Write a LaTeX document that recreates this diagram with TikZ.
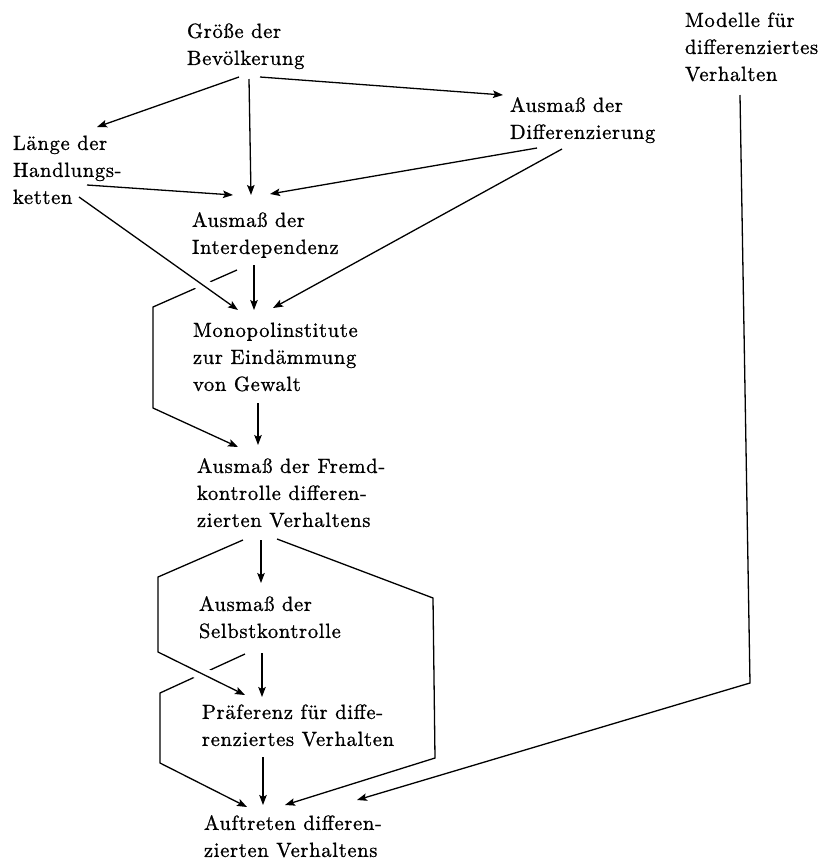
\documentclass[tikz,border=0pt]{standalone}
\usepackage{fontspec}
\setmainfont{lmroman10-regular.otf}[LetterSpace=3.5,FakeBold=1.0]
\usetikzlibrary{arrows.meta}
\begin{document}
\begin{tikzpicture}[x=1pt,y=-1pt,
  lbl/.style={anchor=north west,inner sep=0pt,outer sep=0pt,align=left,font=\fontsize{20.5}{27}\selectfont},
  conn/.style={line width=1.3pt,-{Stealth[length=10pt,width=7.5pt,inset=2pt]},line join=miter},
  over/.style={preaction={draw=white,line width=14pt,-}}]
\useasboundingbox[fill=white] (0,0) rectangle (823,863);
% nodes
\node[lbl] (grosse) at (187,19) {\strut Größe der\\Bevölkerung};
\node[lbl] (laenge) at (13,131) {\strut Länge der\\Handlungs-\\ketten};
\node[lbl] (diff) at (510,93) {\strut Ausmaß der\\Differenzierung};
\node[lbl] (modelle) at (685,8) {\strut Modelle für\\differenziertes\\Verhalten};
\node[lbl] (interdep) at (192,208) {\strut Ausmaß der\\Interdependenz};
\node[lbl] (monopol) at (193,318) {\strut Monopolinstitute\\zur Eindämmung\\von Gewalt};
\node[lbl] (fremd) at (197,454) {\strut Ausmaß der Fremd-\\kontrolle differen-\\zierten Verhaltens};
\node[lbl] (selbst) at (199,592) {\strut Ausmaß der\\Selbstkontrolle};
\node[lbl] (praef) at (202,700) {\strut Präferenz für diffe-\\renziertes Verhalten};
\node[lbl] (auft) at (204,811) {\strut Auftreten differen-\\zierten Verhaltens};
% connectors
\draw[conn] ([shift={(52,58)}]grosse.north west) -- ([shift={(84,-4)}]laenge.north west);
\draw[conn] ([shift={(62,60)}]grosse.north west) -- ([shift={(59,-13)}]interdep.north west);
\draw[conn] ([shift={(73,58)}]grosse.north west) -- ([shift={(-7,2)}]diff.north west);
\draw[conn] ([shift={(74,54)}]laenge.north west) -- ([shift={(41,-13)}]interdep.north west);
\draw[conn] ([shift={(27,55)}]diff.north west) -- ([shift={(78,-14)}]interdep.north west);
\draw[conn] ([shift={(52,56)}]diff.north west) -- ([shift={(80,-10)}]monopol.north west);
\draw[conn] ([shift={(62,57)}]interdep.north west) -- ([shift={(61,-8)}]monopol.north west);
\draw[conn] ([shift={(45,62)}]interdep.north west) -- ++(-84,37) -- ++(0,101) -- ([shift={(41,-7)}]fremd.north west);
\draw[conn,over] ([shift={(66,66)}]laenge.north west) -- ([shift={(45,-8)}]monopol.north west);
\draw[conn] ([shift={(65,85)}]monopol.north west) -- ([shift={(61,-9)}]fremd.north west);
\draw[conn] ([shift={(64,86)}]fremd.north west) -- ([shift={(62,-9)}]selbst.north west);
\draw[conn] ([shift={(80,85)}]fremd.north west) -- ++(156,59) -- ++(2,160) -- ([shift={(81,-6)}]auft.north west);
\draw[conn] ([shift={(63,61)}]selbst.north west) -- ([shift={(60,-3)}]praef.north west);
\draw[conn] ([shift={(46,62)}]selbst.north west) -- ++(-85,39) -- ++(0,70) -- ([shift={(43,-4)}]auft.north west);
\draw[conn,over] ([shift={(46,86)}]fremd.north west) -- ++(-85,37) -- ++(0,75) -- ([shift={(43,-5)}]praef.north west);
\draw[conn] ([shift={(61,57)}]praef.north west) -- ([shift={(59,-6)}]auft.north west);
\draw[conn] ([shift={(55,87)}]modelle.north west) -- ++(10,588) -- ([shift={(153,-11)}]auft.north west);
\end{tikzpicture}
\end{document}
